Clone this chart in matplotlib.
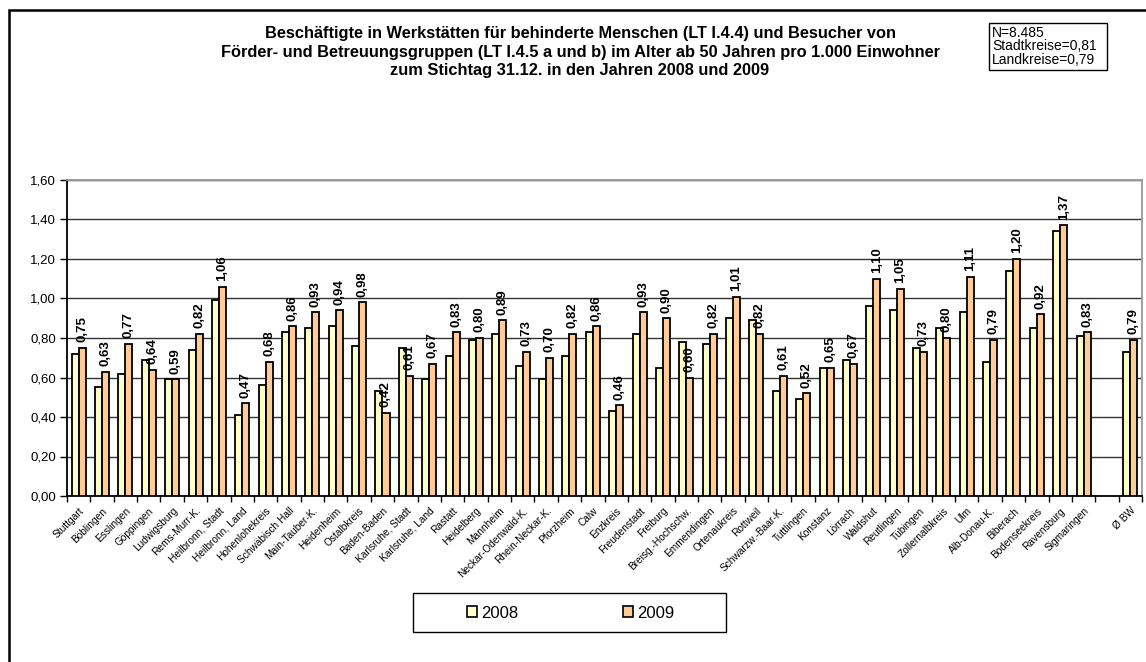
import numpy as np
import matplotlib.pyplot as plt
from matplotlib.patches import Rectangle, Patch
from matplotlib.ticker import FuncFormatter, MultipleLocator

plt.rcParams['font.family'] = ['Liberation Sans', 'DejaVu Sans']

kreise = ['Stuttgart', 'Böblingen', 'Esslingen', 'Göppingen', 'Ludwigsburg',
          'Rems-Murr-K.', 'Heilbronn, Stadt', 'Heilbronn, Land', 'Hohenlohekreis',
          'Schwäbisch Hall', 'Main-Tauber-K.', 'Heidenheim', 'Ostalbkreis',
          'Baden-Baden', 'Karlsruhe, Stadt', 'Karlsruhe, Land', 'Rastatt',
          'Heidelberg', 'Mannheim', 'Neckar-Odenwald-K.', 'Rhein-Neckar-K.',
          'Pforzheim', 'Calw', 'Enzkreis', 'Freudenstadt', 'Freiburg',
          'Breisg.-Hochschw.', 'Emmendingen', 'Ortenaukreis', 'Rottweil',
          'Schwarzw.-Baar-K.', 'Tuttlingen', 'Konstanz', 'Lörrach', 'Waldshut',
          'Reutlingen', 'Tübingen', 'Zollernalbkreis', 'Ulm', 'Alb-Donau-K.',
          'Biberach', 'Bodenseekreis', 'Ravensburg', 'Sigmaringen', '', 'Ø BW']

w2008 = [0.72, 0.55, 0.62, 0.69, 0.59, 0.74, 0.99, 0.41, 0.56, 0.83,
         0.85, 0.86, 0.76, 0.53, 0.75, 0.59, 0.71, 0.79, 0.82, 0.66,
         0.59, 0.71, 0.83, 0.43, 0.82, 0.65, 0.78, 0.77, 0.90, 0.89,
         0.53, 0.49, 0.65, 0.69, 0.96, 0.94, 0.75, 0.85, 0.93, 0.68,
         1.14, 0.85, 1.34, 0.81, np.nan, 0.73]
w2009 = [0.75, 0.63, 0.77, 0.64, 0.59, 0.82, 1.06, 0.47, 0.68, 0.86,
         0.93, 0.94, 0.98, 0.42, 0.61, 0.67, 0.83, 0.80, 0.89, 0.73,
         0.70, 0.82, 0.86, 0.46, 0.93, 0.90, 0.60, 0.82, 1.01, 0.82,
         0.61, 0.52, 0.65, 0.67, 1.10, 1.05, 0.73, 0.80, 1.11, 0.79,
         1.20, 0.92, 1.37, 0.83, np.nan, 0.79]

titel = ('Beschäftigte in Werkstätten für behinderte Menschen (LT I.4.4) und Besucher von\n'
         'Förder- und Betreuungsgruppen (LT I.4.5 a und b) im Alter ab 50 Jahren pro 1.000 Einwohner\n'
         'zum Stichtag 31.12. in den Jahren 2008 und 2009')
info = ['N=8.485', 'Stadtkreise=0,81', 'Landkreise=0,79']

c2008 = '#FFFFCC'
c2009 = '#FFCC99'

W, H = 1146, 662
fig = plt.figure(figsize=(W / 100, H / 100), dpi=100)
ax = fig.add_axes([67 / W, 1 - 496 / H, (1142 - 67) / W, (496 - 180) / H])

x = np.arange(len(kreise))
bw = 0.3
ax.bar(x - bw / 2, w2008, bw, color=c2008, edgecolor='black', linewidth=1.3, zorder=3)
ax.bar(x + bw / 2, w2009, bw, color=c2009, edgecolor='black', linewidth=1.3, zorder=3)

# Werte 2009 senkrecht über den Balken
for xi, v in zip(x, w2009):
    if np.isnan(v):
        continue
    ax.annotate(f'{v:.2f}'.replace('.', ','), (xi + bw / 2, v),
                xytext=(0, 4), textcoords='offset points', rotation=90,
                ha='center', va='bottom', fontsize=9.5, fontweight='bold')

ax.set_xlim(-0.5, len(kreise) - 0.5)
ax.set_ylim(0, 1.6)
ax.yaxis.set_major_locator(MultipleLocator(0.2))
ax.yaxis.set_major_formatter(FuncFormatter(lambda v, p: f'{v:.2f}'.replace('.', ',')))
ax.tick_params(axis='y', labelsize=9.5, length=5, width=1, direction='out', pad=3)
ax.grid(axis='y', color='#333333', linewidth=1, zorder=0)

ax.set_xticks(x)
ax.set_xticklabels(kreise, rotation=45, ha='right', rotation_mode='anchor', fontsize=7.3)
ax.set_xticks(np.arange(len(kreise) + 1) - 0.5, minor=True)
ax.tick_params(axis='x', which='major', length=0, pad=7)
ax.tick_params(axis='x', which='minor', length=4, width=1)

for s in ['left', 'bottom']:
    ax.spines[s].set_color('black')
    ax.spines[s].set_linewidth(1.3)
for s in ['top', 'right']:
    ax.spines[s].set_color('#999999')
    ax.spines[s].set_linewidth(1.3)

fig.text(580 / W, 1 - 52 / H, titel, ha='center', va='center', fontsize=11.8,
         fontweight='bold', linespacing=1.3)

# Kasten mit Kennzahlen oben rechts
fig.patches.append(Rectangle((989 / W, 1 - 70 / H), 118 / W, 47 / H,
                             transform=fig.transFigure, fill=False,
                             edgecolor='black', linewidth=1))
for i, zeile in enumerate(info):
    fig.text(992 / W, 1 - (33 + 13.5 * i) / H, zeile, ha='left', va='center',
             fontsize=10)

# Legende mit eigenem Rahmen
fig.patches.append(Rectangle((413 / W, 1 - 632 / H), 313 / W, 39 / H,
                             transform=fig.transFigure, fill=False,
                             edgecolor='black', linewidth=1))
handles = [Patch(facecolor=c2008, edgecolor='black', linewidth=1.2, label='2008'),
           Patch(facecolor=c2009, edgecolor='black', linewidth=1.2, label='2009')]
fig.legend(handles=handles, loc='center', bbox_to_anchor=(571 / W, 1 - 613 / H),
           ncol=2, fontsize=12, frameon=False,
           handlelength=0.6, handleheight=0.6, handletextpad=0.25,
           columnspacing=6.3)

# Rahmen um das gesamte Diagramm
fig.patches.append(Rectangle((9 / W, -0.1), 1.2, 1 - 10 / H + 0.1,
                             transform=fig.transFigure, fill=False,
                             edgecolor='black', linewidth=1.8))

fig.savefig('out.png', dpi=100)
